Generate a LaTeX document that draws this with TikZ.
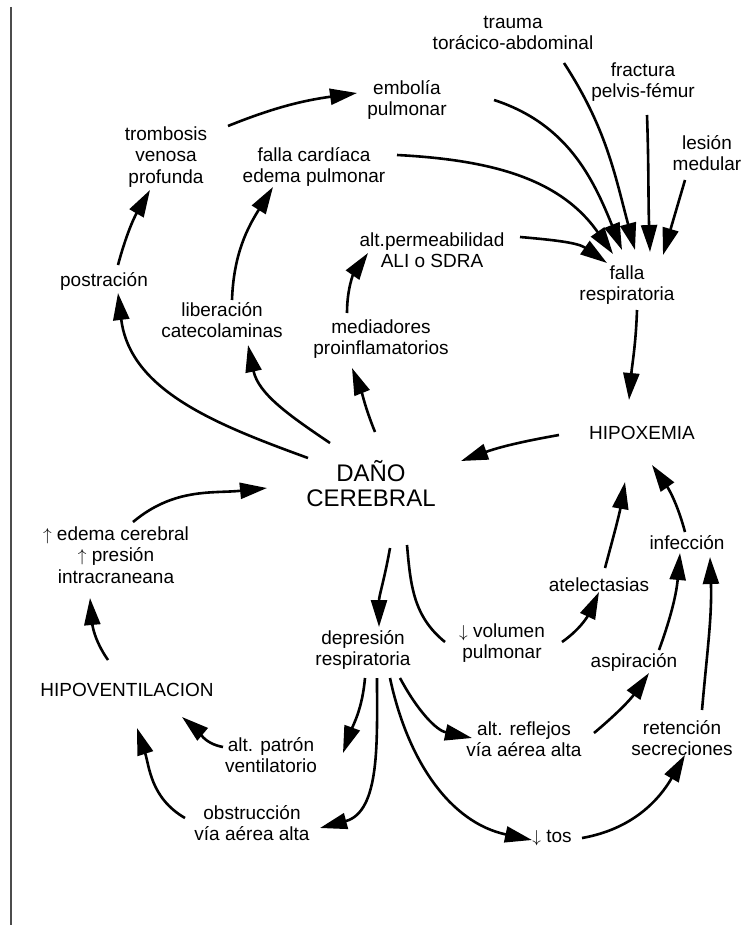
\documentclass[tikz,border=0pt]{standalone}
\usepackage{fontspec}
\setmainfont{Liberation Sans}
\usetikzlibrary{arrows.meta}

\begin{document}
\begin{tikzpicture}[x=1pt,y=1pt,
  lbl/.style={font=\fontsize{19}{21.5}\selectfont,align=center,inner sep=0pt},
  big/.style={font=\fontsize{24}{25}\selectfont,align=center,inner sep=0pt},
  arr/.style={line width=2.6pt,-{Triangle[length=27pt,width=16pt]}},
  plain/.style={line width=2.6pt}]
\useasboundingbox (0,0) rectangle (744,-925);
\draw[line width=1.6pt,black!70] (11,-7)--(11,-925);

% upper part
\node[lbl] (trauma) at (513,-33) {trauma\\torácico-abdominal};
\node[lbl] (fract) at (643,-82) {fractura\\pelvis-fémur};
\node[lbl] (lesion) at (707,-153) {lesión\\medular};
\node[lbl] (embol) at (407,-100) {embolía\\pulmonar};
\node[lbl] (tromb) at (166,-157) {trombosis\\venosa\\profunda};
\node[lbl] (fcard) at (314,-167) {falla cardíaca\\edema pulmonar};
\node[lbl] (perm) at (432,-250) {alt.permeabilidad\\ALI o SDRA};
\node[lbl] (postr) at (104,-281) {postración};
\node[lbl] (liber) at (222,-320) {liberación\\catecolaminas};
\node[lbl] (media) at (381,-339) {mediadores\\proinflamatorios};
\node[lbl] (fresp) at (627,-285) {falla\\respiratoria};
\node[lbl] (hipox) at (642,-433) {HIPOXEMIA};
\node[big] (dano) at (371,-484) {DAÑO\\CEREBRAL};

% lower part
\node[lbl] (edema) at (116,-555) {$\uparrow$ edema cerebral\\$\uparrow$ presión\\intracraneana};
\node[lbl] (hipov) at (127,-690) {HIPOVENTILACION};
\node[lbl] (depr) at (363,-650) {depresión\\respiratoria};
\node[lbl] (volum) at (502,-643) {$\downarrow$ volumen\\pulmonar};
\node[lbl] (atel) at (599,-585) {atelectasias};
\node[lbl] (infec) at (687,-543) {infección};
\node[lbl] (aspir) at (634,-662) {aspiración};
\node[lbl] (refl) at (524,-739) {alt. reflejos\\vía aérea alta};
\node[lbl] (reten) at (682,-738) {retención\\secreciones};
\node[lbl] (tos) at (552,-838) {$\downarrow$ tos};
\node[lbl] (patron) at (271,-755) {alt. patrón\\ventilatorio};
\node[lbl] (obstr) at (252,-823) {obstrucción\\vía aérea alta};

% causes of respiratory failure
\draw[arr] ([shift={(62,31)}]tromb.center) to[out=22,in=188] ([shift={(-50,7)}]embol.center);
\draw[arr] ([shift={(14,16)}]postr.center) to[out=75,in=240] ([shift={(-16,-33)}]tromb.center);
\draw[arr] ([shift={(-63,26)}]dano.center) to[out=160,in=-83] ([shift={(14,-12)}]postr.center);
\draw[arr] ([shift={(-41,41)}]dano.center) to[out=146,in=-78] ([shift={(26,-25)}]liber.center);
\draw[arr] ([shift={(10,20)}]liber.center) to[out=88,in=238] ([shift={(-41,-20)}]fcard.center);
\draw[arr] ([shift={(4,52)}]dano.center) to[out=112,in=-68] ([shift={(-29,-29)}]media.center);
\draw[arr] ([shift={(-34,26)}]media.center) to[out=90,in=235] ([shift={(-64,-3)}]perm.center);
\draw[arr] ([shift={(87,0)}]embol.center) to[out=-18,in=112] ([shift={(-5,35)}]fresp.center);
\draw[arr] ([shift={(83,12)}]fcard.center) to[out=-3,in=125] ([shift={(-14,31)}]fresp.center);
\draw[arr] ([shift={(88,13)}]perm.center) to[out=-5,in=145] ([shift={(-20,22)}]fresp.center);
\draw[arr] ([shift={(51,-30)}]trauma.center) to[out=-57,in=105] ([shift={(8,35)}]fresp.center);
\draw[arr] ([shift={(4,-33)}]fract.center) to[out=-88,in=92] ([shift={(23,33)}]fresp.center);
\draw[arr] ([shift={(-22,-27)}]lesion.center) -- ([shift={(36,30)}]fresp.center);
\draw[arr] ([shift={(10,-25)}]fresp.center) to[out=-92,in=85] ([shift={(-13,33)}]hipox.center);
\draw[arr] ([shift={(-83,-2)}]hipox.center) to[out=190,in=20] ([shift={(90,23)}]dano.center);

% brain damage loop
\draw[arr] ([shift={(17,33)}]edema.center) to[out=40,in=186] ([shift={(-104,-4)}]dano.center);
\draw[arr] ([shift={(-19,30)}]hipov.center) to[out=125,in=-85] ([shift={(-26,-43)}]edema.center);
\draw[arr] ([shift={(19,-64)}]dano.center) to[out=-100,in=90] ([shift={(16,23)}]depr.center);
\draw[plain] ([shift={(36,-61)}]dano.center) to[out=-85,in=141] ([shift={(-57,1)}]volum.center);
\draw[arr] ([shift={(60,1)}]volum.center) to[out=35,in=245] ([shift={(0,-7)}]atel.center);
\draw[arr] ([shift={(6,17)}]atel.center) to[out=75,in=-100] ([shift={(-17,-49)}]hipox.center);
\draw[arr] ([shift={(-2,11)}]infec.center) to[out=105,in=-55] ([shift={(10,-32)}]hipox.center);
\draw[arr] ([shift={(25,12)}]aspir.center) to[out=70,in=-95] ([shift={(-7,-10)}]infec.center);
\draw[arr] ([shift={(20,28)}]reten.center) to[out=85,in=-88] ([shift={(23,-14)}]infec.center);
\draw[arr] ([shift={(70,6)}]refl.center) to[out=40,in=235] ([shift={(15,-11)}]aspir.center);
\draw[arr] ([shift={(37,-28)}]depr.center) to[out=-62,in=168] ([shift={(-52,1)}]refl.center);
\draw[arr] ([shift={(27,-28)}]depr.center) to[out=-78,in=168] ([shift={(-20,-2)}]tos.center);
\draw[arr] ([shift={(30,0)}]tos.center) to[out=10,in=240] ([shift={(3,-17)}]reten.center);
\draw[arr] ([shift={(2,-28)}]depr.center) to[out=-95,in=70] ([shift={(72,2)}]patron.center);
\draw[arr] ([shift={(14,-28)}]depr.center) to[out=-90,in=15] ([shift={(68,-5)}]obstr.center);
\draw[arr] ([shift={(-48,8)}]patron.center) to[out=170,in=-40] ([shift={(55,-27)}]hipov.center);
\draw[arr] ([shift={(-67,5)}]obstr.center) to[out=150,in=-72] ([shift={(10,-38)}]hipov.center);
\end{tikzpicture}
\end{document}
